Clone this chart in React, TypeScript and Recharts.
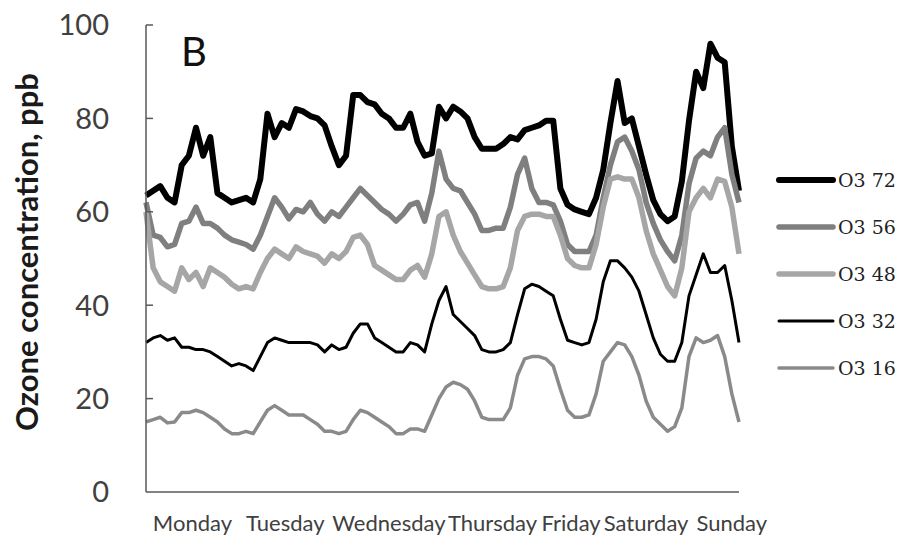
import { LineChart, Line, XAxis, YAxis } from 'recharts';

// day labels sit under the axis at these hour positions (0 = Monday 00:00)
const dayLabels = ['Monday', 'Tuesday', 'Wednesday', 'Thursday', 'Friday', 'Saturday', 'Sunday'];
const dayTickHours = [13, 39, 68, 97, 119, 140, 164];
const yTicks = [0, 20, 40, 60, 80, 100];

// readings every 2 hours, ppb
const o3_72 = [
  63.5, 64.5, 65.5, 63, 62, 70, 72, 78, 72, 76, 64, 63, 62, 62.5,
  63, 62, 67, 81, 76, 79, 78, 82, 81.5, 80.5, 80, 78.5, 74, 70,
  72, 85, 85, 83.5, 83, 81, 80, 78, 78, 81, 75, 72, 72.5, 82.5,
  80, 82.5, 81.5, 80, 76, 73.5, 73.5, 73.5, 74.5, 76, 75.5, 77.5, 78, 78.5,
  79.5, 79.5, 65, 61.5, 60.5, 60, 59.5, 63, 69, 79, 88, 79, 80, 74,
  68, 62.5, 59.5, 58, 59, 66.5, 79.5, 90, 86.5, 96, 93, 92, 74, 64.5,
];
const o3_56 = [
  62, 55, 54.5, 52.5, 53, 57.5, 58, 61, 57.5, 57.5, 56.5, 55, 54, 53.5,
  53, 52, 55, 59, 63, 61, 58.5, 60.5, 60, 62, 59.5, 58, 60, 59,
  61, 63, 65, 63.5, 62, 60.5, 59.5, 58, 59.5, 61.5, 62, 58, 64, 73,
  67, 65, 64.5, 62, 59.5, 56, 56, 56.5, 56.5, 61, 68, 71.5, 65, 62,
  62, 61.5, 58, 53, 51.5, 51.5, 51.5, 55, 63, 70, 75, 76, 73, 69,
  62, 57.5, 54, 51.5, 49.5, 55, 66, 71.5, 73, 72, 76, 78, 68, 62,
];
const o3_48 = [
  60, 48, 45, 44, 43, 48, 45.5, 47, 44, 48, 47, 46, 44.5, 43.5,
  44, 43.5, 47, 50, 52, 51, 50, 52.5, 51.5, 51, 50.5, 49, 51, 50,
  51.5, 54.5, 55, 53, 48.5, 47.5, 46.5, 45.5, 45.5, 47.5, 48.5, 46, 51, 59,
  60, 55, 51.5, 49, 46.5, 44, 43.5, 43.5, 44, 48, 56, 59, 59.5, 59.5,
  59, 59, 55, 50, 48.5, 48, 48, 53, 61, 67, 67.5, 67, 67, 63,
  56, 51, 47.5, 44, 42, 48, 60, 63, 65, 63, 67, 66.5, 61, 51,
];
const o3_32 = [
  32, 33, 33.5, 32.5, 33, 31, 31, 30.5, 30.5, 30, 29, 28, 27, 27.5,
  27, 26, 29, 32, 33, 32.5, 32, 32, 32, 32, 31.5, 30, 31.5, 30.5,
  31, 34, 36, 36, 33, 32, 31, 30, 30, 32, 31.5, 30, 36, 41,
  44, 38, 36.5, 35, 33.5, 30.5, 30, 30, 30.5, 32, 38, 43.5, 44.5, 44,
  43, 42, 37, 32.5, 32, 31.5, 32, 37, 45, 49.5, 49.5, 48, 46, 43,
  38, 33, 29.5, 28, 28, 32, 42, 46.5, 51, 47, 47, 48.5, 41, 32,
];
const o3_16 = [
  15, 15.5, 16, 14.8, 15, 17, 17, 17.5, 17, 16, 15, 13.5, 12.5, 12.5,
  13, 12.5, 15, 17.5, 18.5, 17.5, 16.5, 16.5, 16.5, 15.5, 14.5, 13, 13, 12.5,
  13, 15.5, 17.5, 17, 16, 15, 14, 12.5, 12.5, 13.5, 13.5, 13, 16.5, 20,
  22.5, 23.5, 23, 22, 19.5, 16, 15.5, 15.5, 15.5, 18, 25, 28.5, 29, 29,
  28.5, 27, 22, 17.5, 16, 16, 16.5, 21, 28, 30, 32, 31.5, 29, 25,
  19.5, 16, 14.5, 13, 14, 18, 29, 33, 32, 32.5, 33.5, 29, 21, 15,
];

const seriesNames = ['O3 72', 'O3 56', 'O3 48', 'O3 32', 'O3 16'];
const seriesValues = [o3_72, o3_56, o3_48, o3_32, o3_16];
const seriesColors = ['#000000', '#7f7f7f', '#a6a6a6', '#000000', '#8a8a8a'];
const seriesWidths = [6, 5.5, 5.5, 3, 3.5];

const data = o3_72.map((_, i) => {
  const row: Record<string, number> = { hour: i * 2 };
  seriesNames.forEach((name, s) => {
    row[name] = seriesValues[s][i];
  });
  return row;
});

const axisColor = '#595959';
const textColor = '#404040';

function YTick({ x, y, payload }: any) {
  return (
    <g>
      {payload.value > 0 && <line x1={x} x2={x + 7} y1={y} y2={y} stroke={axisColor} strokeWidth={1.5} />}
      <text x={x - 37} y={y} dy="0.36em" textAnchor="end" fontSize={29} fill={textColor} fontFamily="Lato">
        {payload.value}
      </text>
    </g>
  );
}

function DayTick({ x, y, payload }: any) {
  return (
    <text x={x} y={y + 39} textAnchor="middle" fontSize={22} fill={textColor} fontFamily="Lato">
      {dayLabels[dayTickHours.indexOf(payload.value)]}
    </text>
  );
}

function YTitle() {
  return (
    <text
      transform="translate(38,252) rotate(-90)"
      textAnchor="middle"
      fontSize={31}
      fontWeight="bold"
      fill="#1a1a1a"
      fontFamily="Lato"
    >
      Ozone concentration,  ppb
    </text>
  );
}

export default function App() {
  return (
    <div style={{ position: 'absolute', left: 0, top: 0, width: 907, height: 542, background: '#fff' }}>
      <LineChart width={907} height={542} data={data} margin={{ top: 25, right: 168, bottom: 10, left: 0 }}>
        <XAxis
          dataKey="hour"
          type="number"
          domain={[0, 166]}
          ticks={dayTickHours}
          interval={0}
          tick={<DayTick />}
          tickLine={false}
          tickSize={0}
          tickMargin={0}
          height={40}
          stroke={axisColor}
          strokeWidth={1.5}
        />
        <YAxis
          domain={[0, 100]}
          ticks={yTicks}
          interval={0}
          width={146}
          tick={<YTick />}
          tickLine={false}
          tickSize={0}
          tickMargin={0}
          stroke={axisColor}
          strokeWidth={1.5}
          label={{ content: () => <YTitle /> }}
        />
        {seriesNames.map((name, s) => (
          <Line
            key={name}
            type="linear"
            dataKey={name}
            stroke={seriesColors[s]}
            strokeWidth={seriesWidths[s]}
            strokeLinejoin="round"
            dot={false}
            activeDot={false}
            isAnimationActive={false}
          />
        ))}
      </LineChart>
      <div style={{ position: 'absolute', left: 181, top: 27, fontSize: 40, fontFamily: 'Lato', color: '#111' }}>B</div>
      <div style={{ position: 'absolute', left: 776, top: 156, fontFamily: 'DejaVu Serif', fontSize: 19, color: '#222' }}>
        {seriesNames.map((name, s) => (
          <div key={name} style={{ height: 47, display: 'flex', alignItems: 'center' }}>
            <svg width={62} height={10}>
              <line x1={3} x2={57} y1={5} y2={5} stroke={seriesColors[s]} strokeWidth={seriesWidths[s]} strokeLinecap="round" />
            </svg>
            <span>{name}</span>
          </div>
        ))}
      </div>
    </div>
  );
}
